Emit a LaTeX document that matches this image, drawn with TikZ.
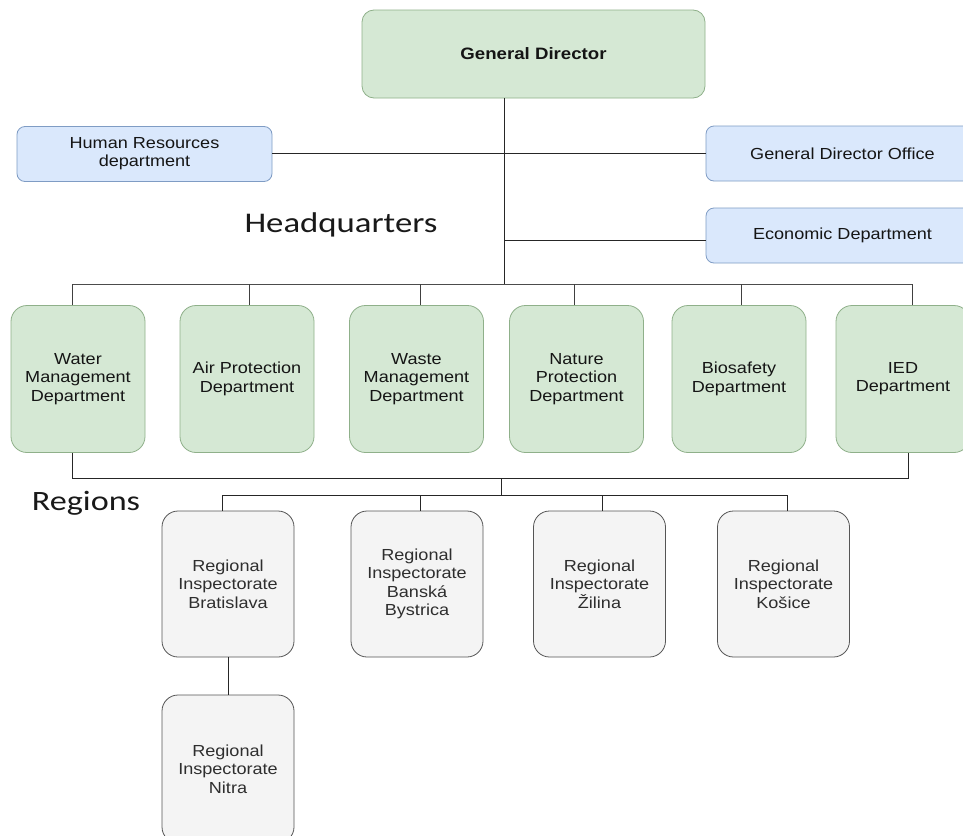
\documentclass[tikz,border=0pt]{standalone}
\usepackage{fontspec}
\setmainfont{Liberation Sans}[FakeStretch=1.13]
\newfontfamily\calib{Carlito}[FakeStretch=1.22]
\definecolor{gfill}{HTML}{D5E8D4}
\definecolor{gline}{HTML}{8FB08A}
\definecolor{bfill}{HTML}{DAE8FC}
\definecolor{bline}{HTML}{7F9CC4}
\definecolor{rfill}{HTML}{F4F4F4}
\definecolor{rline}{HTML}{555555}
\definecolor{txt}{HTML}{151515}
\begin{document}
\begin{tikzpicture}[x=1pt,y=-1pt,
  box/.style={draw, rounded corners=10pt, line width=0.8pt, align=center, inner sep=2pt, text=txt,
    font=\fontsize{16}{18.3}\selectfont},
  green/.style={box, fill=gfill, draw=gline},
  blue/.style={box, fill=bfill, draw=bline, rounded corners=8pt},
  dept/.style={green, minimum width=134pt, minimum height=147pt, rounded corners=16pt},
  reg/.style={box, fill=rfill, draw=rline, minimum width=132pt, minimum height=146pt, rounded corners=16pt, text=black!82},
  conn/.style={line width=1pt, black!85},
  lbl/.style={font=\calib\fontsize{28.5}{31}\selectfont, text=black!90}]
\useasboundingbox (0,0) rectangle (963,835);
\fill[white] (0,0) rectangle (963,835);

% headquarters level
\node[green, minimum width=343pt, minimum height=88pt, rounded corners=12pt, font=\bfseries\fontsize{16.5}{19}\selectfont] (gd) at (533.5,54) {General Director};
\node[blue, minimum width=255pt, minimum height=55pt] (hr) at (144.5,154) {Human Resources\\department};
\node[blue, minimum width=273pt, minimum height=55pt] (gdo) at (842.5,153.5) {General Director Office};
\node[blue, minimum width=273pt, minimum height=55pt] (eco) at (842.5,235.5) {Economic Department};
\node[lbl] (hq) at (341,225) {Headquarters};

\node[dept] (water) at (78,379) {Water\\Management\\Department};
\node[dept] (air) at (247,379) {Air Protection\\Department};
\node[dept] (waste) at (416.5,379) {Waste\\Management\\Department};
\node[dept] (nature) at (576.5,379) {Nature\\Protection\\Department};
\node[dept] (bio) at (739,379) {Biosafety\\Department};
\node[dept] (ied) at (903,379) {IED\\Department};

% regions level
\node[lbl, font=\calib\fontsize{28}{31}\selectfont] (regions) at (86,503) {Regions};
\node[reg] (bra) at (228,584) {Regional\\Inspectorate\\Bratislava};
\node[reg] (bb) at (417,584) {Regional\\Inspectorate\\Banská\\Bystrica};
\node[reg] (za) at (599.5,584) {Regional\\Inspectorate\\Žilina};
\node[reg] (ke) at (783.5,584) {Regional\\Inspectorate\\Košice};
\node[reg, minimum height=148pt] (nr) at (228,769) {Regional\\Inspectorate\\Nitra};

% trunk and branches
\coordinate (t1) at (504,153);
\coordinate (t2) at (504,240);
\coordinate (t3) at (504,284);
\draw[conn] (gd.south -| t1) -- (t3);
\draw[conn] (hr.east |- t1) -- (gdo.west |- t1);
\draw[conn] (t2) -- (eco.west |- t2);

\coordinate (bl) at (72,284);
\coordinate (br) at (912,284);
\draw[conn, black!70] (bl) -- (br);
\foreach \n/\x in {water/72, air/249, waste/420, nature/574, bio/741, ied/912}
  \draw[conn, black!75] (\x,284) -- (\x,0 |- \n.north);

% to regions
\coordinate (ml) at (72,478);
\coordinate (mr) at (908,478);
\coordinate (mt) at (501,478);
\coordinate (rt) at (501,495);
\draw[conn] (water.south -| ml) -- (ml) -- (mr) -- (ied.south -| mr);
\draw[conn] (mt) -- (rt);
\draw[conn] (222,495) -- (787,495);
\foreach \n/\x in {bra/222, bb/420, za/602, ke/787}
  \draw[conn] (\x,495) -- (\x,0 |- \n.north);
\draw[conn, line width=0.7pt] (bra.south) -- (nr.north);
\end{tikzpicture}
\end{document}
